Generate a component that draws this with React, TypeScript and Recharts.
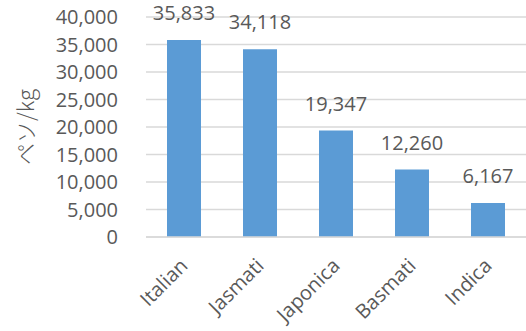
import { BarChart, Bar, XAxis, YAxis, CartesianGrid, LabelList } from "recharts"

const CATEGORIES = ["Italian", "Jasmati", "Japonica", "Basmati", "Indica"]
const PRICES = [35833, 34118, 19347, 12260, 6167]
const Y_TICKS = [0, 5000, 10000, 15000, 20000, 25000, 30000, 35000, 40000]
const Y_LABEL = "ペソ/kg"

const TEXT = "#595959"
const FONT = "'Open Sans', sans-serif"

const data = CATEGORIES.map((name, i) => ({ name, price: PRICES[i] }))

const fmt = (v: number) => v.toLocaleString("en-US")

function XTick({ x, payload }: any) {
  return (
    <g transform={`translate(${x + 5},${267})`}>
      <text
        x={0}
        y={0}
        textAnchor="end"
        transform="rotate(-45)"
        fill={TEXT}
        fontSize={20}
        fontFamily={FONT}
      >
        {payload.value}
      </text>
    </g>
  )
}

function YLabel({ viewBox }: any) {
  const cy = viewBox.y + viewBox.height / 2
  return (
    <text
      x={24}
      y={cy}
      transform={`rotate(-90, 24, ${cy})`}
      textAnchor="middle"
      dominantBaseline="central"
      fill={TEXT}
      fontSize={22}
      fontFamily="'Noto Sans CJK JP', 'Open Sans', sans-serif"
      fontWeight={300}
    >
      {Y_LABEL}
    </text>
  )
}

export default function App() {
  return (
    <div style={{ position: "absolute", left: 0, top: 0, background: "#fff" }}>
      <BarChart
        width={526}
        height={331}
        data={data}
        margin={{ top: 17, right: 0, left: 0, bottom: 0 }}
      >
        <CartesianGrid vertical={false} stroke="#D9D9D9" strokeWidth={1.3} />
        <XAxis
          dataKey="name"
          height={94}
          interval={0}
          tick={<XTick />}
          tickLine={false}
          axisLine={{ stroke: "#D9D9D9", strokeWidth: 1.3 }}
        />
        <YAxis
          width={146}
          domain={[0, 40000]}
          ticks={Y_TICKS}
          interval={0}
          tickFormatter={fmt}
          tickLine={false}
          axisLine={false}
          tickMargin={22}
          tick={{ fill: TEXT, fontSize: 20, fontFamily: FONT }}
          label={<YLabel />}
        />
        <Bar dataKey="price" fill="#5B9BD5" barSize={34} isAnimationActive={false}>
          <LabelList
            dataKey="price"
            position="top"
            offset={20}
            formatter={(v: any) => fmt(Number(v))}
            fill={TEXT}
            fontSize={20}
            fontFamily={FONT}
          />
        </Bar>
      </BarChart>
    </div>
  )
}
